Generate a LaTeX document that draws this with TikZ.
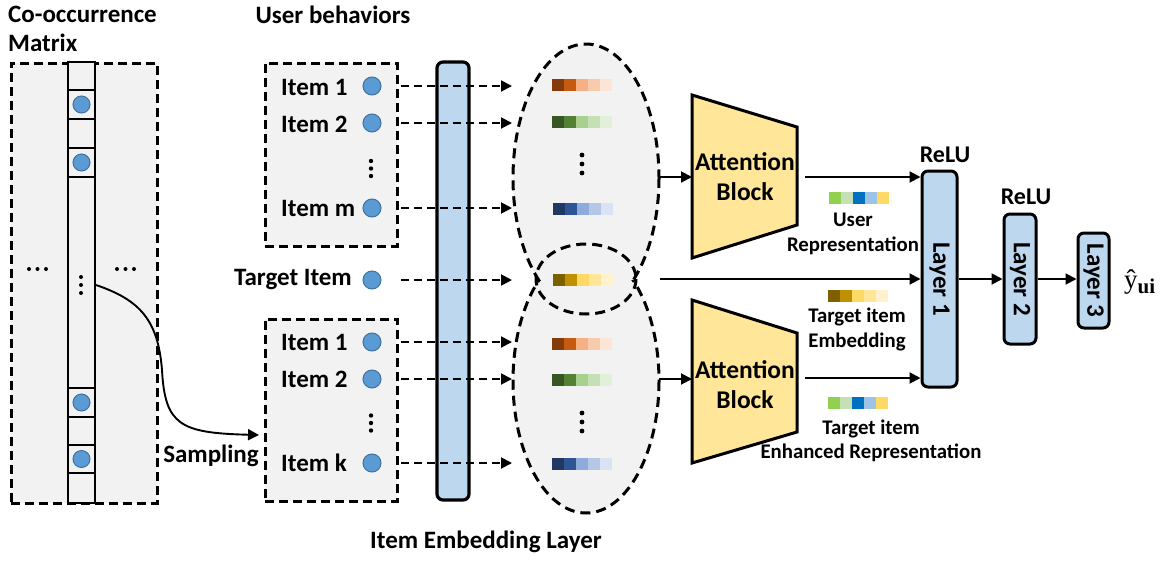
\documentclass[tikz,border=0pt]{standalone}
\usepackage[no-math]{fontspec}
\setmainfont{Carlito}
\newfontfamily\yfont{Liberation Serif}
\usetikzlibrary{arrows.meta}
\definecolor{boxgray}{HTML}{F2F2F2}
\definecolor{dotblue}{HTML}{5B9BD5}
\definecolor{dotedge}{HTML}{41719C}
\definecolor{layerblue}{HTML}{BDD7EE}
\definecolor{attyellow}{HTML}{FFE699}
\definecolor{or1}{HTML}{843C0C}\definecolor{or2}{HTML}{C55A11}\definecolor{or3}{HTML}{F4B183}\definecolor{or4}{HTML}{F8CBAD}\definecolor{or5}{HTML}{FBE5D6}
\definecolor{gr1}{HTML}{375623}\definecolor{gr2}{HTML}{548235}\definecolor{gr3}{HTML}{A9D18E}\definecolor{gr4}{HTML}{C5E0B4}\definecolor{gr5}{HTML}{E2F0D9}
\definecolor{bl1}{HTML}{1F3864}\definecolor{bl2}{HTML}{2F5597}\definecolor{bl3}{HTML}{8FAADC}\definecolor{bl4}{HTML}{B4C7E7}\definecolor{bl5}{HTML}{DAE3F3}
\definecolor{go1}{HTML}{7F6000}\definecolor{go2}{HTML}{BF9000}\definecolor{go3}{HTML}{FFD966}\definecolor{go4}{HTML}{FFE699}\definecolor{go5}{HTML}{FFF2CC}
\definecolor{ur1}{HTML}{92D050}\definecolor{ur2}{HTML}{C5E0B4}\definecolor{ur3}{HTML}{0070C0}\definecolor{ur4}{HTML}{9DC3E6}\definecolor{ur5}{HTML}{FFD966}
\newcommand\colbar[7]{\foreach \cc [count=\ii from 0] in {#3,#4,#5,#6,#7} \fill[\cc] ({#1+12*\ii},{#2-6}) rectangle ++(12,12);}
\newcommand\myvdots[4]{\foreach \kk in {-1,0,1} \fill ({#1},{#2+#3*\kk}) circle (#4);}
\newcommand\myhdots[4]{\foreach \kk in {-1,0,1} \fill ({#1+#3*\kk},{#2}) circle (#4);}
\begin{document}
\begin{tikzpicture}[x=1pt,y=-1pt,
  lbl/.style={font=\fontsize{25}{28}\selectfont\bfseries, inner sep=0pt},
  small/.style={font=\fontsize{20.8}{24.5}\selectfont\bfseries, inner sep=0pt, align=center},
  attn/.style={font=\fontsize{25.5}{30}\selectfont\bfseries, inner sep=0pt, align=center},
  dot/.style={circle, fill=dotblue, draw=dotedge, line width=1pt, minimum size=18pt, inner sep=0pt},
  dbox/.style={draw, fill=boxgray, line width=3pt, dash pattern=on 9pt off 5pt, inner sep=0pt},
  edash/.style={line width=3pt, dash pattern=on 10pt off 6pt},
  arr/.style={-{Triangle[length=11pt,width=11pt]}, line width=1.9pt},
  darr/.style={arr, dash pattern=on 8pt off 5pt},
  layer/.style={draw, line width=3pt, rounded corners=6pt, fill=layerblue, inner sep=0pt},
  llbl/.style={font=\fontsize{25}{28}\selectfont\bfseries, inner sep=0pt, rotate=-90},
  trap/.style={draw, line width=3pt, fill=attyellow, line join=miter}
]
\path[use as bounding box, fill=white] (0,0) rectangle (1172,560);

% titles
\node[lbl, anchor=west] (tco) at (8,14) {Co-occurrence};
\node[lbl, anchor=west] (tmx) at (8,43) {Matrix};
\node[lbl] (tub) at (333,15) {User behaviors};

% co-occurrence matrix
\node[dbox, minimum width=146, minimum height=440] (mat) at (84,283) {};
\node[draw, line width=2.4pt, fill=boxgray, minimum width=27, minimum height=441, inner sep=0pt] (col) at (81.5,282.5) {};
\foreach \yy in {90,119,148,177,388,417,445,473} \draw[line width=2.4pt] (68,\yy) -- (95,\yy);
\node[dot, minimum size=17pt] (m1) at (81.5,104.5) {};
\node[dot, minimum size=17pt] (m2) at (81.5,162.5) {};
\node[dot, minimum size=17pt] (m3) at (81.5,402.5) {};
\node[dot, minimum size=17pt] (m4) at (81.5,459) {};
\myhdots{37.5}{269}{8.5}{2}
\myhdots{125.5}{269}{8.5}{2}
\myvdots{81}{285}{8}{2}

% user behaviour boxes
\node[dbox, minimum width=132, minimum height=183] (ubox) at (331,154.5) {};
\node[dbox, minimum width=132, minimum height=182] (sbox) at (331,410) {};

\node[lbl, anchor=west] (i1) at (281,87) {Item 1};
\node[lbl, anchor=west] (i2) at (281,124) {Item 2};
\node[lbl, anchor=west] (im) at (281,208) {Item m};
\node[lbl, anchor=east] (ti) at (352,280) {Target Item};
\node[lbl, anchor=west] (j1) at (281,342) {Item 1};
\node[lbl, anchor=west] (j2) at (281,379) {Item 2};
\node[lbl, anchor=west] (jk) at (281,463) {Item k};
\node[lbl] (samp) at (211,456) {Sampling};

\node[dot] (c1) at (372,86) {};
\node[dot] (c2) at (372,123) {};
\node[dot] (cm) at (372,208) {};
\node[dot] (ct) at (372,280) {};
\node[dot] (d1) at (372,342) {};
\node[dot] (d2) at (372,379) {};
\node[dot] (dk) at (372,463) {};
\myvdots{371}{168.5}{7.5}{2.2}
\myvdots{371}{423}{7.5}{2.2}

% sampling curve
\coordinate (cs) at (96,285);
\coordinate (ce) at (259,435);
\draw[arr] (cs) .. controls (140,300) and (158,320) .. (162,370) .. controls (165,425) and (180,433) .. (ce);

% item embedding layer
\node[layer, line width=3.2pt, minimum width=32, minimum height=438] (emb) at (453,281) {};
\node[lbl] (embl) at (486,542) {Item Embedding Layer};

% ellipses
\fill[boxgray] (586,178) ellipse [x radius=73, y radius=134];
\fill[boxgray] (586,381) ellipse [x radius=73, y radius=132];
\begin{scope}
\clip (490,30) rectangle (680,280);
\draw[edash] (586,178) ellipse [x radius=73, y radius=134];
\end{scope}
\begin{scope}
\clip (490,280) rectangle (680,530);
\draw[edash] (586,381) ellipse [x radius=73, y radius=132];
\end{scope}
\colbar{552}{85}{or1}{or2}{or3}{or4}{or5}
\colbar{552}{122}{gr1}{gr2}{gr3}{gr4}{gr5}
\colbar{553}{209}{bl1}{bl2}{bl3}{bl4}{bl5}
\colbar{553}{280}{go1}{go2}{go3}{go4}{go5}
\colbar{552}{344}{or1}{or2}{or3}{or4}{or5}
\colbar{552}{380}{gr1}{gr2}{gr3}{gr4}{gr5}
\colbar{552}{464}{bl1}{bl2}{bl3}{bl4}{bl5}
\myvdots{582}{164}{9}{2.4}
\myvdots{582}{422}{9}{2.4}
\draw[edash] (586,279) ellipse [x radius=50, y radius=35];

% dashed arrows to embeddings
\foreach \src/\yy in {c1/86, c2/123, cm/208, ct/280, d1/342, d2/379, dk/463}{
  \coordinate (s-\src) at (401,\yy);
  \coordinate (t-\src) at (512,\yy);
  \draw[darr] (s-\src) -- (t-\src);
}

% attention blocks
\draw[trap] (692,95) -- (797,127) -- (797,225) -- (692,258) -- cycle;
\node[attn] (att1) at (745,177) {Attention\\Block};
\draw[trap] (692,300) -- (797,333) -- (797,432) -- (692,463) -- cycle;
\node[attn] (att2) at (745,385) {Attention\\Block};
\coordinate (e1r) at (659,177);
\coordinate (a1in) at (692,177);
\coordinate (a1out) at (805,177);
\coordinate (e2r) at (659,379);
\coordinate (a2in) at (692,379);
\coordinate (a2out) at (805,378);
\coordinate (tgt) at (660,279);

% MLP layers
\node[layer, minimum width=35, minimum height=216] (L1) at (939.5,279) {};
\node[llbl] at (L1) {Layer 1};
\node[layer, minimum width=32, minimum height=130] (L2) at (1020,279) {};
\node[llbl] at (L2) {Layer 2};
\node[layer, minimum width=31, minimum height=95] (L3) at (1093.5,280.5) {};
\node[llbl] at (L3) {Layer 3};
\node[lbl, font=\fontsize{24}{26}\selectfont\bfseries] (r1) at (945,155) {ReLU};
\node[lbl, font=\fontsize{24}{26}\selectfont\bfseries] (r2) at (1026,197) {ReLU};
\node[inner sep=0pt, anchor=base west] (yhat) at (1124,288) {\yfont\fontsize{27}{30}\selectfont ŷ\raisebox{-5pt}{\bfseries\fontsize{21}{24}\selectfont ui}};

\draw[arr] (e1r) -- (a1in);
\draw[arr] (e2r) -- (a2in);
\draw[arr] (a1out) -- (a1out -| L1.west);
\draw[arr] (tgt) -- (tgt -| L1.west);
\draw[arr] (a2out) -- (a2out -| L1.west);
\draw[arr] (L1.east |- L2.west) -- (L2.west);
\draw[arr] (L2.east) -- (L2.east -| L3.west);

% representation bars and labels
\colbar{829}{198}{ur1}{ur2}{ur3}{ur4}{ur5}
\node[small] (ur) at (853,234) {User\\Representation};
\colbar{828}{296}{go1}{go2}{go3}{go4}{go5}
\node[small] (te) at (857,329.5) {Target item\\Embedding};
\colbar{828}{403}{ur1}{ur2}{ur3}{ur4}{ur5}
\node[small] (tr) at (871,441) {Target item\\Enhanced Representation};
\end{tikzpicture}
\end{document}
